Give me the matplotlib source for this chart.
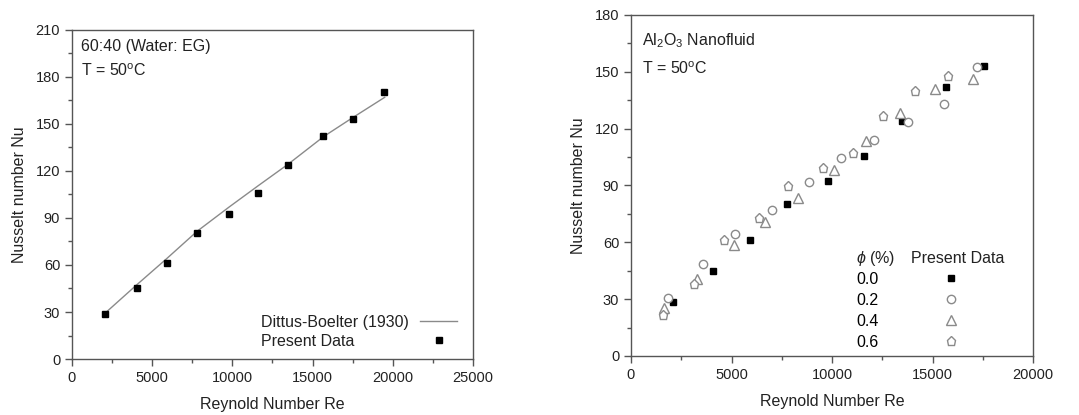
import matplotlib
matplotlib.use("Agg")
import matplotlib.pyplot as plt
from matplotlib.ticker import MultipleLocator

plt.rcParams['font.family'] = ['Liberation Sans', 'DejaVu Sans']
plt.rcParams['mathtext.fontset'] = 'custom'
plt.rcParams['mathtext.rm'] = 'Liberation Sans'
plt.rcParams['mathtext.it'] = 'Liberation Sans:italic'

# left panel: base fluid 60:40 water/EG
re_base = [2030, 4050, 5900, 7780, 9810, 11580, 13500, 15660, 17530, 19440]
nu_base = [28.7, 45.0, 61.0, 80.5, 92.7, 105.8, 124.1, 142.0, 153.0, 170.5]
re_db = [2070, 4000, 5900, 7800, 9800, 11600, 13500, 15700, 17500, 19500]
nu_db = [29.3, 47.0, 64.0, 81.5, 97.0, 110.5, 124.5, 142.0, 154.0, 167.0]
left_labels = ["Dittus-Boelter (1930)", "Present Data"]

# right panel: Al2O3 nanofluid, by volume concentration
re_00 = [2090, 4060, 5910, 7780, 9820, 11590, 13490, 15680, 17550]
nu_00 = [28.3, 44.9, 61.1, 80.4, 92.6, 105.8, 124.1, 142.0, 152.9]
re_02 = [1850, 3590, 5180, 6990, 8840, 10430, 12100, 13790, 15560, 17220]
nu_02 = [30.8, 48.7, 64.2, 77.1, 92.0, 104.5, 113.9, 123.4, 133.2, 152.4]
re_04 = [1660, 3290, 5100, 6670, 8330, 10100, 11690, 13380, 15100, 17020]
nu_04 = [25.2, 40.5, 58.4, 70.9, 83.2, 98.2, 113.7, 128.5, 141.1, 146.4]
re_06 = [1610, 3110, 4650, 6370, 7830, 9540, 11060, 12550, 14110, 15750]
nu_06 = [21.6, 38.2, 61.4, 73.0, 89.6, 99.1, 107.3, 126.5, 139.7, 148.0]

phi_labels = ["0.0", "0.2", "0.4", "0.6"]

spine_col = "#555555"
grey = "#8a8a8a"
txt = "#222222"
fs = 11.5

fig = plt.figure(figsize=(10.79, 4.15), dpi=100)
ax1 = fig.add_axes([0.0667, 0.1349, 0.3716, 0.793])
ax2 = fig.add_axes([0.5848, 0.1422, 0.3726, 0.8217])


def style(ax):
    for s in ax.spines.values():
        s.set_color(spine_col)
        s.set_linewidth(1.0)
    ax.tick_params(which='major', direction='out', length=5, width=1,
                   color=spine_col, labelsize=10.5, labelcolor=txt)
    ax.tick_params(which='minor', direction='out', length=3, width=1,
                   color=spine_col)
    ax.xaxis.set_minor_locator(MultipleLocator(2500))
    ax.yaxis.set_minor_locator(MultipleLocator(15))
    ax.set_xlabel("Reynold Number Re", fontsize=fs, color=txt, labelpad=9)
    ax.set_ylabel("Nusselt number Nu", fontsize=fs, color=txt, labelpad=6)


# left
l1, = ax1.plot(re_db, nu_db, color=grey, lw=1.0)
l2, = ax1.plot(re_base, nu_base, 's', color='black', ms=5)
ax1.set_xlim(0, 25000)
ax1.set_ylim(0, 210)
ax1.xaxis.set_major_locator(MultipleLocator(5000))
ax1.yaxis.set_major_locator(MultipleLocator(30))
style(ax1)
ax1.text(0.022, 0.972, "60:40 (Water: EG)", transform=ax1.transAxes,
         fontsize=fs, va='top', color=txt)
ax1.text(0.022, 0.902, "T = 50$^\\mathrm{o}$C", transform=ax1.transAxes,
         fontsize=fs, va='top', color=txt)
# legend texts left aligned, handles in a column on the right
ax1.text(0.471, 0.112, left_labels[0], transform=ax1.transAxes,
         fontsize=fs, va='center', color=txt)
ax1.text(0.471, 0.052, left_labels[1], transform=ax1.transAxes,
         fontsize=fs, va='center', color=txt)
ax1.legend(handles=[l1, l2], labels=["", ""], loc='center',
           bbox_to_anchor=(0.915, 0.082), frameon=False, fontsize=fs,
           handlelength=2.3, handletextpad=0, labelspacing=0.25,
           borderpad=0)

# right
h0, = ax2.plot(re_00, nu_00, 's', color='black', ms=5, label=phi_labels[0])
h1, = ax2.plot(re_02, nu_02, 'o', mfc='white', mec=grey, mew=1.0, ms=6,
               label=phi_labels[1])
h2, = ax2.plot(re_04, nu_04, '^', mfc='white', mec=grey, mew=1.0, ms=6.5,
               label=phi_labels[2])
h3, = ax2.plot(re_06, nu_06, 'p', mfc='white', mec=grey, mew=1.0, ms=6.5,
               label=phi_labels[3])
ax2.set_xlim(0, 20000)
ax2.set_ylim(0, 180)
ax2.xaxis.set_major_locator(MultipleLocator(5000))
ax2.yaxis.set_major_locator(MultipleLocator(30))
style(ax2)
ax2.text(0.027, 0.952, "Al$_2$O$_3$ Nanofluid", transform=ax2.transAxes,
         fontsize=fs, va='top', color=txt)
ax2.text(0.027, 0.867, "T = 50$^\\mathrm{o}$C", transform=ax2.transAxes,
         fontsize=fs, va='top', color=txt)
ax2.text(0.56, 0.287, "$\\phi$ (%)", transform=ax2.transAxes,
         fontsize=fs, va='center', color=txt)
ax2.text(0.697, 0.287, "Present Data", transform=ax2.transAxes,
         fontsize=fs, va='center', color=txt)
ax2.legend(handles=[h0, h1, h2, h3], loc='upper left',
           bbox_to_anchor=(0.541, 0.271), frameon=False, markerfirst=False,
           fontsize=fs, handletextpad=4.0, labelspacing=0.38, borderpad=0,
           handlelength=1.0)

fig.savefig("out.png", dpi=100)
